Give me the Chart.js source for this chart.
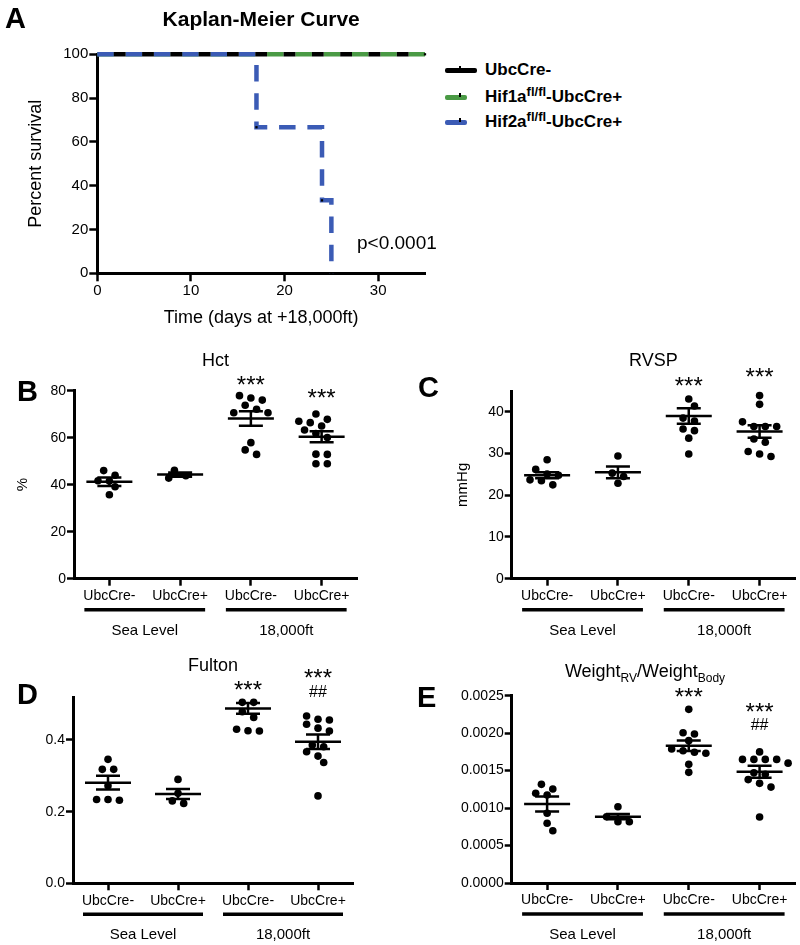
<!DOCTYPE html>
<html>
<head>
<meta charset="utf-8">
<title>Kaplan-Meier and hemodynamics</title>
<script src="https://cdn.jsdelivr.net/npm/chart.js@4.4.1/dist/chart.umd.min.js"></script>
<style>
  body { margin: 0; background: #fff; }
  #page { position: relative; width: 800px; height: 945px; overflow: hidden; font-family: "Liberation Sans", Arial, sans-serif; }
  canvas { position: absolute; }
  .leg { position: absolute; left: 445px; height: 22px; display: flex; align-items: center; font-weight: bold; font-size: 17px; white-space: nowrap; color: #000; }
  .leg .sw { position: relative; height: 5px; border-radius: 2px; }
  .leg .sw i { position: absolute; left: 14px; top: -2px; width: 2px; height: 4px; background: #000; }
  .leg sup { font-size: 13px; vertical-align: 6px; line-height: 0; }
</style>
</head>
<body>
<div id="page">
  <canvas id="km" width="440" height="335" style="left:0;top:0"></canvas>
  <canvas id="hct" width="400" height="305" style="left:0;top:335px"></canvas>
  <canvas id="rvsp" width="400" height="305" style="left:400px;top:335px"></canvas>
  <canvas id="fulton" width="400" height="315" style="left:0;top:630px"></canvas>
  <canvas id="rvbw" width="400" height="315" style="left:400px;top:630px"></canvas>

  <div class="leg" style="top:59px"><span class="sw" style="width:32px;background:#000;margin-right:8px"><i></i></span><span>UbcCre-</span></div>
  <div class="leg" style="top:86px"><span class="sw" style="width:22px;background:#4a9a45;margin-right:18px"><i></i></span><span>Hif1a<sup>fl/fl</sup>-UbcCre+</span></div>
  <div class="leg" style="top:111px"><span class="sw" style="width:22px;background:#3b5bb5;margin-right:18px"><i></i></span><span>Hif2a<sup>fl/fl</sup>-UbcCre+</span></div>
</div>
<script>
const FONT = '"Liberation Sans", Arial, sans-serif';
Chart.defaults.font.family = FONT;
Chart.defaults.color = '#000';
Chart.defaults.animation = false;

const GREEN = '#4a9a45';
const BLUE = '#3b5bb5';

// Kaplan-Meier: days at +18,000ft vs percent survival
const ubcMinusDays = [0, 35];
const ubcMinusSurvival = [100, 100];
const hif1aDays = [0, 35];
const hif1aSurvival = [100, 100];
const hif2aDays = [0, 17, 24, 25];
const hif2aSurvival = [100, 66.7, 33.3, 0];
const censorDays = [17, 24, 25, 35];
const censorSurvival = [66.7, 33.3, 0, 100];
const kmDayTicks = [0, 10, 20, 30];
const kmPercentTicks = [0, 20, 40, 60, 80, 100];

// dot plots: four groups each
const categories = ['UbcCre-', 'UbcCre+', 'UbcCre-', 'UbcCre+'];
const conditions = ['Sea Level', '18,000ft'];

// Hct (%)
const hctSeaMinus = [46.0, 44.0, 41.6, 41.7, 39.1, 35.7];
const hctSeaPlus = [46.1, 43.8, 42.8];
const hctAltMinus = [77.9, 76.9, 76.0, 73.8, 72.1, 70.6, 70.6, 57.9, 54.8, 52.9];
const hctAltPlus = [70.1, 67.8, 67.0, 66.4, 65.0, 63.3, 61.8, 60.1, 53.0, 52.9, 48.9, 48.9];
const hctMean = [41.3, 44.3, 68.2, 60.4];
const hctSem = [1.8, 0.9, 3.1, 2.3];
const hctTicks = [0, 20, 40, 60, 80];

// RVSP (mmHg)
const rvspSeaMinus = [28.5, 26.2, 25.1, 24.8, 23.7, 23.5, 22.5];
const rvspSeaPlus = [29.4, 25.3, 24.5, 22.9];
const rvspAltMinus = [43.1, 41.4, 38.5, 37.8, 35.9, 35.5, 33.7, 29.9];
const rvspAltPlus = [43.9, 41.8, 37.6, 36.5, 36.5, 36.5, 33.5, 32.7, 30.5, 29.9, 29.3];
const rvspMean = [24.8, 25.5, 39.0, 35.3];
const rvspSem = [0.7, 1.4, 1.85, 1.5];
const rvspTicks = [0, 10, 20, 30, 40];

// Fulton index
const fultonSeaMinus = [0.346, 0.318, 0.318, 0.272, 0.234, 0.232, 0.234];
const fultonSeaPlus = [0.290, 0.251, 0.230, 0.223];
const fultonAltMinus = [0.505, 0.505, 0.479, 0.463, 0.430, 0.426, 0.425];
const fultonAltPlus = [0.467, 0.458, 0.456, 0.444, 0.433, 0.425, 0.386, 0.381, 0.367, 0.355, 0.337, 0.244];
const fultonMean = [0.281, 0.249, 0.488, 0.395];
const fultonSem = [0.019, 0.014, 0.015, 0.02];
const fultonTicks = [0, 0.2, 0.4];

// Weight RV / Weight body
const rvbwSeaMinus = [0.001317, 0.001255, 0.001197, 0.001175, 0.00093, 0.000797, 0.000698];
const rvbwSeaPlus = [0.001018, 0.000885, 0.000818, 0.000818];
const rvbwAltMinus = [0.002318, 0.002006, 0.001989, 0.0019, 0.001789, 0.001766, 0.001745, 0.001731, 0.001584, 0.001477];
const rvbwAltPlus = [0.00175, 0.00165, 0.00165, 0.00165, 0.00165, 0.0016, 0.00147, 0.00145, 0.00138, 0.00133, 0.00128, 0.00088];
const rvbwMean = [0.001054, 0.000885, 0.001833, 0.001486];
const rvbwSem = [0.0001, 0.000035, 0.00007, 0.00008];
const rvbwTicks = [0, 0.0005, 0.001, 0.0015, 0.002, 0.0025];

// significance marks per group
const starMarks = ['', '', '***', '***'];
const hashMarks = ['', '', '', '##'];

function pairs(xs, ys) {
  return xs.map((x, i) => ({ x: x, y: ys[i] }));
}

// draw text made of pieces (for sub/superscripts)
function drawRich(ctx, segs, cx, baseline, align) {
  let w = 0;
  segs.forEach(s => {
    ctx.font = (s.bold ? 'bold ' : '') + s.size + 'px ' + FONT;
    s.w = ctx.measureText(s.t).width;
    w += s.w;
  });
  let x = align === 'left' ? cx : cx - w / 2;
  ctx.textAlign = 'left';
  ctx.textBaseline = 'alphabetic';
  segs.forEach(s => {
    ctx.font = (s.bold ? 'bold ' : '') + s.size + 'px ' + FONT;
    ctx.fillText(s.t, x, baseline + (s.dy || 0));
    x += s.w;
  });
}

function axisCommon(tickLen) {
  return {
    border: { display: true, color: '#000', width: 3 },
    grid: { display: true, drawOnChartArea: false, drawTicks: true, tickLength: tickLen, tickWidth: 2.5, tickColor: '#000', color: '#000' }
  };
}

// ---- Panel A: Kaplan-Meier ----
(function () {
  const cv = document.getElementById('km');
  const area = { left: 97.3, right: 425, top: 54.3, bottom: 273.3 };
  new Chart(cv, {
    type: 'line',
    data: {
      datasets: [
        { data: pairs(censorDays, censorSurvival), showLine: false, pointStyle: 'rect', pointRadius: 1.6, pointBackgroundColor: '#000', pointBorderWidth: 0, clip: false },
        { data: pairs(ubcMinusDays, ubcMinusSurvival), borderColor: '#000', borderWidth: 4.5, borderDash: [11.8, 16.5], borderDashOffset: 11.8, pointRadius: 0, stepped: true, clip: false },
        { data: pairs(hif2aDays, hif2aSurvival), borderColor: BLUE, borderWidth: 4.5, borderDash: [16.5, 11.8], pointRadius: 0, stepped: true, clip: false },
        { data: pairs(hif1aDays, hif1aSurvival), borderColor: GREEN, borderWidth: 4.5, borderDash: [16.5, 11.8], pointRadius: 0, stepped: true, clip: false }
      ]
    },
    options: {
      responsive: false, animation: false, events: [],
      layout: { padding: { left: 0, top: area.top, right: cv.width - area.right, bottom: 0 } },
      plugins: { legend: { display: false }, tooltip: { enabled: false } },
      scales: {
        x: Object.assign(axisCommon(8), {
          type: 'linear', min: 0, max: 35,
          ticks: { font: { size: 15 }, padding: 1, maxRotation: 0, autoSkip: false, color: '#000' },
          title: { display: true, text: 'Time (days at +18,000ft)', font: { size: 18 }, padding: { top: 0, bottom: 6.2 }, color: '#000' },
          afterBuildTicks: s => { s.ticks = kmDayTicks.map(v => ({ value: v })); },
          afterFit: s => { s.height = cv.height - area.bottom; }
        }),
        y: Object.assign(axisCommon(8), {
          type: 'linear', min: 0, max: 100,
          ticks: { font: { size: 15 }, padding: 1, color: '#000' },
          title: { display: true, text: 'Percent survival', font: { size: 18 }, padding: { top: 25, bottom: 0 }, color: '#000' },
          afterBuildTicks: s => { s.ticks = kmPercentTicks.map(v => ({ value: v })); },
          afterFit: s => { s.width = area.left; }
        })
      }
    },
    plugins: [{
      id: 'kmDecor',
      afterDraw(chart) {
        const ctx = chart.ctx;
        ctx.save();
        ctx.fillStyle = '#000';
        drawRich(ctx, [{ t: 'A', size: 29, bold: true }], 5, 28, 'left');
        drawRich(ctx, [{ t: 'Kaplan-Meier Curve', size: 21, bold: true }], (area.left + area.right) / 2, 26);
        drawRich(ctx, [{ t: 'p<0.0001', size: 19 }], 357, 249, 'left');
        ctx.restore();
      }
    }]
  });
})();

// beeswarm-like horizontal offsets (pixels) for one group
function swarmOffsets(values, yScale) {
  const d = 8, step = 11.4, half = step / 2, rowH = 6;
  const items = values.map((v, i) => ({ v: v, i: i, py: yScale.getPixelForValue(v) }))
    .sort((a, b) => a.py - b.py);
  const rows = [];
  items.forEach(it => {
    const row = rows[rows.length - 1];
    if (row && it.py - row[0].py < rowH) row.push(it); else rows.push([it]);
  });
  const cands = [];
  [1, 2, 3].forEach(f => [0, half, -half, step, -step].forEach(s => cands.push({ f: f, s: s })));
  const placed = [];
  rows.forEach(row => {
    const n = row.length;
    let opts = cands.map(c => row.map((it, k) => (k - (n - 1) / 2) * step * c.f + c.s));
    opts.sort((a, b) => Math.max(...a.map(Math.abs)) - Math.max(...b.map(Math.abs)));
    let best = opts.find(xs => row.every((it, k) => placed.every(p => Math.hypot(p.x - xs[k], p.py - it.py) >= d)));
    if (!best) best = opts[0];
    row.forEach((it, k) => { it.x = best[k]; placed.push(it); });
  });
  return items.sort((a, b) => a.i - b.i).map(it => it.x);
}

function makeDotPanel(id, p) {
  const cv = document.getElementById(id);
  const a = p.area;
  const chart = new Chart(cv, {
    type: 'scatter',
    data: { datasets: [{ data: [], pointRadius: 3.8, pointHoverRadius: 3.8, pointBackgroundColor: '#000', pointBorderWidth: 0 }] },
    options: {
      responsive: false, animation: false, events: [],
      layout: { padding: { left: 0, top: a.top, right: cv.width - a.right, bottom: 0 } },
      plugins: { legend: { display: false }, tooltip: { enabled: false } },
      scales: {
        x: Object.assign(axisCommon(7), {
          type: 'linear', min: -0.5, max: 3.5,
          ticks: { font: { size: 14 }, padding: 2, maxRotation: 0, autoSkip: false, color: '#000', callback: v => categories[v] },
          afterBuildTicks: s => { s.ticks = categories.map((c, i) => ({ value: i })); },
          afterFit: s => { s.height = cv.height - a.bottom; }
        }),
        y: Object.assign(axisCommon(7), {
          type: 'linear', min: p.yMin, max: p.yMax,
          ticks: { font: { size: 14 }, padding: 1, color: '#000', callback: p.fmt },
          title: p.yTitle ? { display: true, text: p.yTitle, font: { size: 15 }, padding: { top: p.yTitlePad, bottom: 0 }, color: '#000' } : { display: false },
          afterBuildTicks: s => { s.ticks = p.ticks.map(v => ({ value: v })); },
          afterFit: s => { s.width = a.left; }
        })
      }
    },
    plugins: [{
      id: 'dotDecor',
      afterDatasetsDraw(chart) {
        const ctx = chart.ctx, xs = chart.scales.x, ys = chart.scales.y;
        ctx.save();
        ctx.strokeStyle = '#000';
        ctx.lineWidth = 2.5;
        p.means.forEach((m, gi) => {
          const x = xs.getPixelForValue(gi), ym = ys.getPixelForValue(m);
          const yu = ys.getPixelForValue(m + p.sems[gi]), yl = ys.getPixelForValue(m - p.sems[gi]);
          ctx.beginPath();
          ctx.moveTo(x - 23, ym); ctx.lineTo(x + 23, ym);
          ctx.moveTo(x, yu); ctx.lineTo(x, yl);
          ctx.moveTo(x - 12, yu); ctx.lineTo(x + 12, yu);
          ctx.moveTo(x - 12, yl); ctx.lineTo(x + 12, yl);
          ctx.stroke();
        });
        ctx.restore();
      },
      afterDraw(chart) {
        const ctx = chart.ctx, xs = chart.scales.x, ys = chart.scales.y, ca = chart.chartArea;
        ctx.save();
        ctx.fillStyle = '#000';
        ctx.strokeStyle = '#000';
        drawRich(ctx, [{ t: p.letter, size: 29, bold: true }], p.letterX, p.letterY, 'left');
        drawRich(ctx, p.title, p.titleX != null ? p.titleX : (ca.left + ca.right) / 2, p.titleY);
        starMarks.forEach((s, gi) => {
          if (!s || p.starY[gi] == null) return;
          drawRich(ctx, [{ t: s, size: 24 }], xs.getPixelForValue(gi), ys.getPixelForValue(p.starY[gi]) + 13.7);
        });
        hashMarks.forEach((s, gi) => {
          if (!s || !p.hashY || p.hashY[gi] == null) return;
          drawRich(ctx, [{ t: s, size: 16 }], xs.getPixelForValue(gi), ys.getPixelForValue(p.hashY[gi]) + 5.8);
        });
        ctx.lineWidth = 3.5;
        conditions.forEach((c, k) => {
          const x0 = xs.getPixelForValue(2 * k) - 25, x1 = xs.getPixelForValue(2 * k + 1) + 25;
          ctx.beginPath();
          ctx.moveTo(x0, ca.bottom + 31); ctx.lineTo(x1, ca.bottom + 31);
          ctx.stroke();
          drawRich(ctx, [{ t: c, size: 15 }], (x0 + x1) / 2, ca.bottom + 56);
        });
        ctx.restore();
      }
    }]
  });
  const xs = chart.scales.x, ys = chart.scales.y;
  const pxPerCat = xs.getPixelForValue(1) - xs.getPixelForValue(0);
  const pts = [];
  p.groups.forEach((vals, gi) => {
    const off = swarmOffsets(vals, ys);
    vals.forEach((v, k) => pts.push({ x: gi + off[k] / pxPerCat, y: v }));
  });
  chart.data.datasets[0].data = pts;
  chart.update('none');
}

makeDotPanel('hct', {
  area: { left: 74, right: 357, top: 55.7, bottom: 243.7 },
  yMin: 0, yMax: 80, ticks: hctTicks, fmt: v => String(v),
  yTitle: '%', yTitlePad: 14,
  groups: [hctSeaMinus, hctSeaPlus, hctAltMinus, hctAltPlus],
  means: hctMean, sems: hctSem,
  starY: [null, null, 85, 79.4],
  letter: 'B', letterX: 17, letterY: 65.7,
  title: [{ t: 'Hct', size: 18 }], titleY: 31
});

makeDotPanel('rvsp', {
  area: { left: 111.7, right: 395, top: 56, bottom: 243.7 },
  yMin: 0, yMax: 45, ticks: rvspTicks, fmt: v => String(v),
  yTitle: 'mmHg', yTitlePad: 54,
  groups: [rvspSeaMinus, rvspSeaPlus, rvspAltMinus, rvspAltPlus],
  means: rvspMean, sems: rvspSem,
  starY: [null, null, 47.5, 49.8],
  letter: 'C', letterX: 18, letterY: 61.7,
  title: [{ t: 'RVSP', size: 18 }], titleY: 31
});

makeDotPanel('fulton', {
  area: { left: 73, right: 353, top: 67, bottom: 253.3 },
  yMin: 0, yMax: 0.52, ticks: fultonTicks, fmt: v => v.toFixed(1),
  groups: [fultonSeaMinus, fultonSeaPlus, fultonAltMinus, fultonAltPlus],
  means: fultonMean, sems: fultonSem,
  starY: [null, null, 0.556, 0.589], hashY: [null, null, null, 0.537],
  letter: 'D', letterX: 17, letterY: 74,
  title: [{ t: 'Fulton', size: 18 }], titleY: 40.7
});

makeDotPanel('rvbw', {
  area: { left: 111.7, right: 395, top: 65.7, bottom: 253 },
  yMin: 0, yMax: 0.0025, ticks: rvbwTicks, fmt: v => v.toFixed(4),
  groups: [rvbwSeaMinus, rvbwSeaPlus, rvbwAltMinus, rvbwAltPlus],
  means: rvbwMean, sems: rvbwSem,
  starY: [null, null, 0.002553, 0.002363], hashY: [null, null, null, 0.002118],
  letter: 'E', letterX: 17, letterY: 77,
  title: [{ t: 'Weight', size: 18 }, { t: 'RV', size: 12, dy: 5 }, { t: '/Weight', size: 18 }, { t: 'Body', size: 12, dy: 5 }],
  titleX: 245, titleY: 46.7
});
</script>
</body>
</html>
